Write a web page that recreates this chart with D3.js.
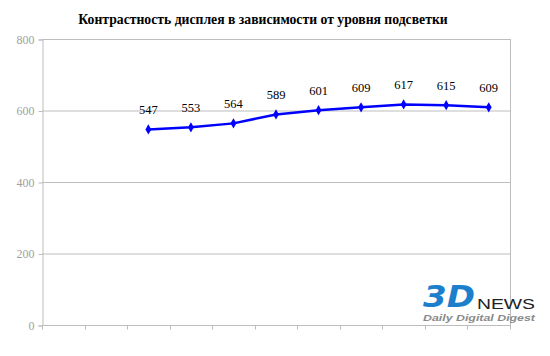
<!DOCTYPE html>
<html><head><meta charset="utf-8">
<script src="https://cdn.jsdelivr.net/npm/d3@7"></script>
<style>body{margin:0;background:#fff}svg{display:block}</style>
</head><body>
<script>
const title = "Контрастность дисплея в зависимости от уровня подсветки";
const categories = ["c1","c2","c3","c4","c5","c6","c7","c8","c9","c10","c11"];
const values = [null,null,547,553,564,589,601,609,617,615,609];
const yTicks = [0,200,400,600,800];

const W=550,H=356;
const m={l:42,r:40,t:39,b:31};
const svg=d3.select("body").append("svg").attr("width",W).attr("height",H);
const x=d3.scaleBand().domain(categories).range([m.l,W-m.r]);
const y=d3.scaleLinear().domain([0,800]).range([H-m.b,m.t]);

// gridlines
svg.append("g").selectAll("line").data(yTicks).join("line")
  .attr("x1",m.l).attr("x2",W-m.r).attr("y1",d=>y(d)+0.5).attr("y2",d=>y(d)+0.5)
  .attr("stroke","#bdbdbd").attr("stroke-width",1);
// right border
svg.append("line").attr("x1",W-m.r+0.5).attr("x2",W-m.r+0.5).attr("y1",m.t).attr("y2",H-m.b)
  .attr("stroke","#bdbdbd");

// y axis
const ya=svg.append("g").attr("transform",`translate(${m.l+0.5},0.5)`)
  .call(d3.axisLeft(y).tickValues(yTicks).tickSize(4).tickPadding(4));
ya.select(".domain").attr("stroke","#bdbdbd");
ya.selectAll(".tick line").attr("stroke","#bdbdbd");
ya.selectAll("text").attr("fill","#a0a0a0").style("font-family","'Liberation Serif',serif").style("font-size","12px");

// x axis (ticks at band boundaries, no labels)
const xa=svg.append("g").attr("transform",`translate(0,${H-m.b+0.5})`);
xa.append("line").attr("x1",m.l).attr("x2",W-m.r+1).attr("stroke","#bdbdbd");
const bounds=categories.map(c=>x(c)).concat([x(categories[categories.length-1])+x.bandwidth()]);
xa.selectAll("line.t").data(bounds).join("line").attr("class","t")
  .attr("x1",d=>Math.round(d)+0.5).attr("x2",d=>Math.round(d)+0.5).attr("y1",0).attr("y2",4)
  .attr("stroke","#bdbdbd");

const pts=categories.map((c,i)=>({c,v:values[i]})).filter(d=>d.v!=null);
const cx=d=>x(d.c)+x.bandwidth()/2;
svg.append("path").datum(pts)
  .attr("d",d3.line().x(cx).y(d=>y(d.v)))
  .attr("fill","none").attr("stroke","#0000ff").attr("stroke-width",2.5);
svg.append("g").selectAll("path").data(pts).join("path")
  .attr("d",d3.symbol(d3.symbolDiamond,30))
  .attr("transform",d=>`translate(${cx(d)},${y(d.v)})`).attr("fill","#0000ff");
svg.append("g").selectAll("text").data(pts).join("text")
  .attr("x",cx).attr("y",d=>y(d.v)-15).attr("text-anchor","middle")
  .style("font-family","'Liberation Serif',serif").style("font-size","12.5px").attr("fill","#000")
  .text(d=>d.v);

// title
svg.append("text").attr("x",263).attr("y",24).attr("text-anchor","middle")
  .style("font-family","'Liberation Serif',serif").style("font-size","13.7px").style("font-weight","bold")
  .text(title);

// logo
const lg=svg.append("g");
lg.append("text").attr("x",423).attr("y",307)
  .style("font-family","'DejaVu Sans',sans-serif").style("font-size","31px").style("font-weight","bold")
  .style("font-style","italic").attr("fill","#1b7fcc").attr("textLength",52).attr("lengthAdjust","spacingAndGlyphs").text("3D");
lg.append("text").attr("x",477).attr("y",309)
  .style("font-family","'Liberation Sans',sans-serif").style("font-size","14px")
  .attr("fill","#222").attr("textLength",58).attr("lengthAdjust","spacingAndGlyphs").text("NEWS");
lg.append("text").attr("x",423).attr("y",321)
  .style("font-family","'Liberation Sans',sans-serif").style("font-size","8.5px").style("font-weight","bold")
  .style("font-style","italic").attr("fill","#8a8a8a").attr("textLength",112).attr("lengthAdjust","spacingAndGlyphs").text("Daily Digital Digest");
</script>
</body></html>
